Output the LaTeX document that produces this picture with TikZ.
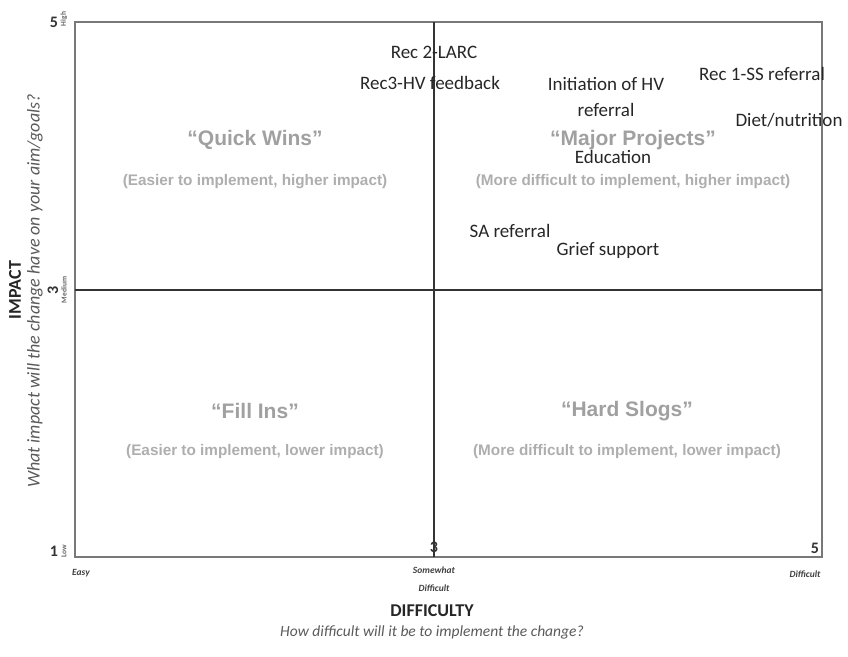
\documentclass[tikz,border=0pt]{standalone}
\usepackage{fontspec}
\setmainfont{Carlito}
\newfontfamily\quadfont{Liberation Sans}
\definecolor{qgray}{RGB}{160,160,160}
\definecolor{framegray}{RGB}{120,120,120}
\definecolor{subgray}{RGB}{90,90,90}
\begin{document}
\begin{tikzpicture}[x=1pt,y=-1pt,
  item/.style={font=\fontsize{19}{21}\selectfont, text=black!85, inner sep=0pt},
  qtitle/.style={font=\quadfont\bfseries\fontsize{21}{23}\selectfont, text=qgray, inner sep=0pt},
  qsub/.style={font=\quadfont\bfseries\fontsize{15.3}{17}\selectfont, text=qgray!85, inner sep=0pt},
  tick/.style={font=\bfseries\fontsize{16}{17}\selectfont, text=black!80, inner sep=0pt},
  tiny/.style={font=\bfseries\itshape\fontsize{9.5}{10}\selectfont, text=black!75, inner sep=0pt},
  rtiny/.style={font=\bfseries\fontsize{7.5}{8}\selectfont, text=black!60, inner sep=0pt, rotate=90},
  axtitle/.style={font=\bfseries\fontsize{18}{19}\selectfont, text=black!85, inner sep=0pt},
  axsub/.style={font=\itshape\fontsize{15.5}{16}\selectfont, text=subgray, inner sep=0pt}]
\useasboundingbox (0,0) rectangle (848,656);
% frame
\coordinate (tl) at (75,22);
\coordinate (br) at (822,557);
\draw[framegray, line width=2pt] (tl) rectangle (br);
\coordinate (mt) at (434,22);
\coordinate (mb) at (434,557);
\coordinate (ml) at (75,290);
\coordinate (mr) at (822,290);
\draw[black!80, line width=1.4pt] (mt) -- (mb);
\draw[black!80, line width=1.4pt] (ml) -- (mr);
% quadrant labels
\node[qtitle] (qw) at (255,140) {“Quick Wins”};
\node[qsub] (qws) at (255,182) {(Easier to implement, higher impact)};
\node[qtitle] (mp) at (633,140) {“Major Projects”};
\node[qsub] (mps) at (633,182) {(More difficult to implement, higher impact)};
\node[qtitle] (fi) at (255,411) {“Fill Ins”};
\node[qsub] (fis) at (255,452) {(Easier to implement, lower impact)};
\node[qtitle] (hs) at (627,411) {“Hard Slogs”};
\node[qsub] (hss) at (627,452) {(More difficult to implement, lower impact)};
% items
\node[item] (r2) at (434,52) {Rec 2-LARC};
\node[item] (r3) at (430,83) {Rec3-HV feedback};
\node[item] (ih1) at (606,84) {Initiation of HV};
\node[item] (ih2) at (606,110) {referral};
\node[item] (r1) at (762,74) {Rec 1-SS referral};
\node[item] (dn) at (789,120) {Diet/nutrition};
\node[item] (ed) at (613,157) {Education};
\node[item] (sa) at (510,231) {SA referral};
\node[item] (gs) at (608,250) {Grief support};
% y-axis
\node[tick] (y5) at (54,22) {5};
\node[rtiny] (yhigh) at (64,19) {High};
\node[tick, rotate=90] (y3) at (53,290) {3};
\node[rtiny] (ymed) at (64,290) {Medium};
\node[tick] (y1) at (54,551) {1};
\node[rtiny] (ylow) at (64,551) {Low};
\node[axtitle, rotate=90] (imp) at (15,290) {IMPACT};
\node[axsub, rotate=90, font=\itshape\fontsize{18}{19}\selectfont] (imps) at (35,291) {What impact will the change have on your aim/goals?};
% x-axis
\node[tiny] (xeasy) at (81,573) {Easy};
\node[tick] (x3) at (434,547) {3};
\node[tiny] (xsw) at (434,570) {Somewhat};
\node[tiny] (xsd) at (434,588) {Difficult};
\node[tick] (x5) at (815,548) {5};
\node[tiny] (xd) at (805,574) {Difficult};
\node[axtitle] (dif) at (432,611) {DIFFICULTY};
\node[axsub] (difs) at (432,632) {How difficult will it be to implement the change?};
\end{tikzpicture}
\end{document}
